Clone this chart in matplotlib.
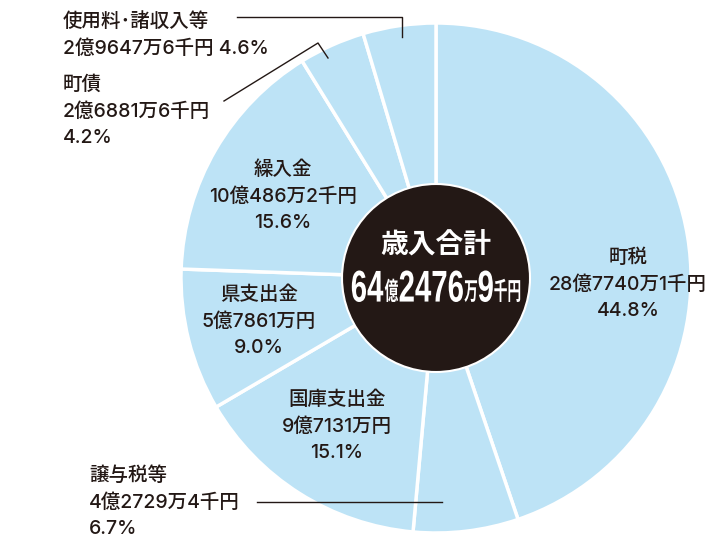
import matplotlib.pyplot as plt
from matplotlib.patches import Circle, PathPatch
from matplotlib.textpath import TextPath
from matplotlib.font_manager import FontProperties
from matplotlib.transforms import Affine2D

# 歳入 (千円)
names = ["町税", "譲与税等", "国庫支出金", "県支出金", "繰入金", "町債", "使用料･諸収入等"]
values = [2877401, 427294, 971310, 578610, 1004862, 268816, 296476]
amounts = ["28億7740万1千円", "4億2729万4千円", "9億7131万円", "5億7861万円",
           "10億486万2千円", "2億6881万6千円", "2億9647万6千円"]
pcts = ["44.8%", "6.7%", "15.1%", "9.0%", "15.6%", "4.2%", "4.6%"]
total_title = "歳入合計"
total_parts = ["64", "億", "2476", "万", "9", "千円"]

dark = "#231815"
blue = "#bde3f6"
jp = ["Inter", "Noto Sans CJK JP"]
lab = dict(fontsize=14, color=dark, family=jp, fontweight="medium")

fig = plt.figure(figsize=(7.24, 5.47), dpi=100)
ax = fig.add_axes([0, 0, 1, 1])

# y軸は下向き (ピクセル座標と同じ) -> counterclock=True で見た目は時計回り
ax.pie(values, center=(436, 278), radius=255, startangle=-90, counterclock=True,
       colors=[blue] * len(values),
       wedgeprops=dict(edgecolor="white", linewidth=2.5))
ax.set_xlim(0, 724)
ax.set_ylim(547, 0)
ax.set_aspect("equal")
ax.axis("off")

ax.add_patch(Circle((436, 278), 94, fc=dark, ec="white", lw=1.5, zorder=3))

# ラベル (中央揃え、円内)
inside = {0: (628, 258), 2: (337, 400), 3: (259, 295), 4: (283, 170)}
for i, (x, y) in inside.items():
    for k, s in enumerate([names[i], amounts[i], pcts[i]]):
        ax.text(x, y + k * 26.5, s, ha="center", va="center", **lab)

# ラベル (左揃え、円外)
ax.text(63, 22, names[6], ha="left", va="center", **lab)
ax.text(63, 49, amounts[6] + " " + pcts[6], ha="left", va="center", **lab)
for k, s in enumerate([names[5], amounts[5], pcts[5]]):
    ax.text(63, 85 + k * 26.5, s, ha="left", va="center", **lab)
for k, s in enumerate([names[1], amounts[1], pcts[1]]):
    ax.text(89, 476 + k * 26.5, s, ha="left", va="center", **lab)

# 引き出し線
ax.plot([237, 402, 402], [17, 17, 37], color=dark, lw=1)
ax.plot([224, 318, 328], [101, 43, 58], color=dark, lw=1)
ax.plot([257, 442], [502, 502], color=dark, lw=1)

# 中央
ax.text(436, 246, total_title, ha="center", va="center", fontsize=20, color="white",
        fontweight="bold", family=jp, zorder=4)

# 長体の数字: TextPath を横方向に縮めて並べる
fp_num = FontProperties(family="Liberation Sans", weight="bold")
fp_jp = FontProperties(family="Noto Sans CJK JP", weight="bold")
paths = []
for s in total_parts:
    if s[0].isdigit():
        tp = TextPath((0, 0), s, size=44.5, prop=fp_num)
        sx = 0.66
    else:
        tp = TextPath((0, 0), s, size=25, prop=fp_jp)
        sx = 0.55
    paths.append((tp, sx))

gap = 1.5
widths = [tp.get_extents().width * sx for tp, sx in paths]
x = 436 - (sum(widths) + gap * (len(widths) - 1)) / 2
bottom = 302
for (tp, sx), w in zip(paths, widths):
    ext = tp.get_extents()
    tr = Affine2D().translate(-ext.x0, -ext.y0).scale(sx, -1).translate(x, bottom)
    ax.add_patch(PathPatch(tr.transform_path(tp), fc="white", ec="none", zorder=4))
    x += w + gap

fig.savefig("out.png", dpi=100)
